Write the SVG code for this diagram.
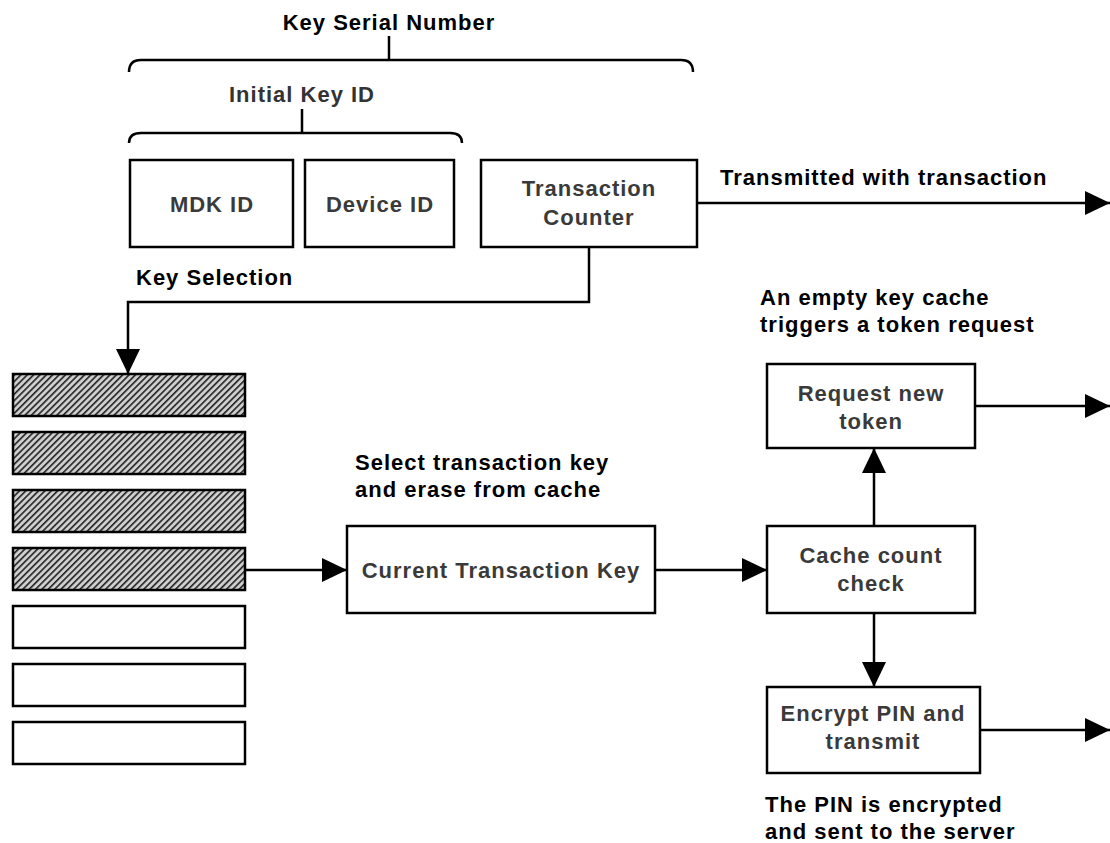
<svg xmlns="http://www.w3.org/2000/svg" width="1110" height="843" viewBox="0 0 1110 843">
<defs>
<pattern id="hatch" width="4.5" height="4.5" patternUnits="userSpaceOnUse" patternTransform="rotate(45)">
<rect width="4.5" height="4.5" fill="#cfcfcf"/>
<rect width="1.6" height="4.5" fill="#222"/>
</pattern>
<marker id="arr" markerWidth="25" markerHeight="24" refX="25" refY="12" orient="auto" markerUnits="userSpaceOnUse">
<path d="M0,0 L25,12 L0,24 Z" fill="#000"/>
</marker>
</defs>
<style>
.box{fill:#fff;stroke:#000;stroke-width:2.5}
.hb{fill:url(#hatch);stroke:#000;stroke-width:2.5}
.sb{fill:#fff;stroke:#000;stroke-width:2.5}
.bt{font-family:"Liberation Sans",Arial,sans-serif;font-weight:bold;font-size:22px;letter-spacing:1px;fill:#3a3a3a;text-anchor:middle}
.lb{font-family:"Liberation Sans",Arial,sans-serif;font-weight:bold;font-size:22px;letter-spacing:1px;fill:#000}
.ln{fill:none;stroke:#000;stroke-width:2.5}
.c{fill:none;stroke:#000;stroke-width:2.5}
</style>
<g id="braces">
<text class="lb" x="389" y="30" text-anchor="middle">Key Serial Number</text>
<path class="ln" d="M389,36 V60 M129,72 Q129,60 141,60 H681 Q693,60 693,72"/>
<text class="lb" x="302" y="102" text-anchor="middle" style="fill:#333">Initial Key ID</text>
<path class="ln" d="M302,109 V133 M129,143 Q129,133 141,133 H450 Q462,133 462,143"/>
</g>
<g id="mdk"><rect class="box" x="130" y="160" width="163" height="87"/><text class="bt" x="212" y="212">MDK ID</text></g>
<g id="device"><rect class="box" x="305" y="160" width="149" height="87"/><text class="bt" x="380" y="212">Device ID</text></g>
<g id="counter"><rect class="box" x="481" y="160" width="216" height="87"/><text class="bt" x="589" y="196">Transaction</text><text class="bt" x="589" y="225">Counter</text></g>
<g id="labels">
<text class="lb" x="720" y="185">Transmitted with transaction</text>
<text class="lb" x="136" y="285">Key Selection</text>
<text class="lb" x="760" y="305">An empty key cache</text>
<text class="lb" x="760" y="332">triggers a token request</text>
<text class="lb" x="355" y="470">Select transaction key</text>
<text class="lb" x="355" y="497">and erase from cache</text>
<text class="lb" x="765" y="812">The PIN is encrypted</text>
<text class="lb" x="765" y="839">and sent to the server</text>
</g>
<g id="stack">
<rect class="hb" x="13" y="374" width="232" height="42"/>
<rect class="hb" x="13" y="432" width="232" height="42"/>
<rect class="hb" x="13" y="490" width="232" height="42"/>
<rect class="hb" x="13" y="548" width="232" height="42"/>
<rect class="sb" x="13" y="606" width="232" height="42"/>
<rect class="sb" x="13" y="664" width="232" height="42"/>
<rect class="sb" x="13" y="722" width="232" height="42"/>
</g>
<g id="ctk"><rect class="box" x="347" y="526" width="308" height="87"/><text class="bt" x="501" y="578">Current Transaction Key</text></g>
<g id="check"><rect class="box" x="767" y="526" width="208" height="87"/><text class="bt" x="871" y="563">Cache count</text><text class="bt" x="871" y="591">check</text></g>
<g id="request"><rect class="box" x="767" y="364" width="208" height="84"/><text class="bt" x="871" y="401">Request new</text><text class="bt" x="871" y="429">token</text></g>
<g id="encrypt"><rect class="box" x="767" y="687" width="213" height="86"/><text class="bt" x="873" y="721">Encrypt PIN and</text><text class="bt" x="873" y="749">transmit</text></g>
<g id="connectors">
<path class="c" d="M697,203 H1110" marker-end="url(#arr)"/>
<path class="c" d="M589,247 V302 H128 V374" marker-end="url(#arr)"/>
<path class="c" d="M245,570 H347" marker-end="url(#arr)"/>
<path class="c" d="M655,570 H767" marker-end="url(#arr)"/>
<path class="c" d="M874,526 V448" marker-end="url(#arr)"/>
<path class="c" d="M975,406 H1110" marker-end="url(#arr)"/>
<path class="c" d="M874,613 V687" marker-end="url(#arr)"/>
<path class="c" d="M980,730 H1110" marker-end="url(#arr)"/>
</g>
</svg>
